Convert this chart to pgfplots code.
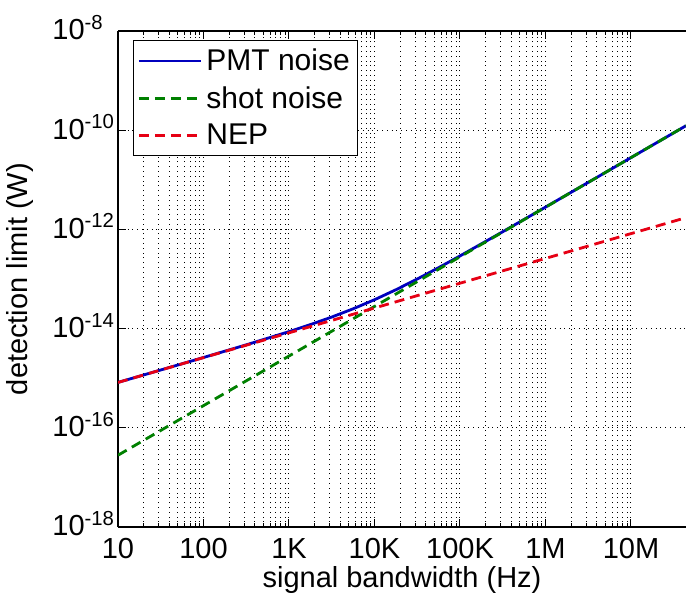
\documentclass[border=0pt]{standalone}
\usepackage{fontspec}
\setmainfont{Liberation Sans}
\usepackage{pgfplots}
\pgfplotsset{compat=1.18}
\definecolor{mblue}{RGB}{0,0,190}
\definecolor{mgreen}{RGB}{0,128,0}
\definecolor{mred}{RGB}{230,0,20}
\begin{document}
\begin{tikzpicture}
\useasboundingbox (-59pt,-36pt) rectangle (284pt,263.5pt);
\begin{axis}[
  at={(0,0)}, anchor=south west,
  scale only axis, width=284pt, height=248pt,
  xmode=log, ymode=log,
  xmin=10, xmax=4.4e7, ymin=1e-18, ymax=1e-8,
  axis x line*=box, axis y line*=left,
  axis line style={-, line width=0.6pt},
  ytick pos=left, xtick pos=both,
  font=\fontsize{14.5pt}{17pt}\selectfont,
  xtick={10,100,1000,1e4,1e5,1e6,1e7},
  xticklabels={10,100,1K,10K,100K,1M,10M},
  ytick={1e-18,1e-16,1e-14,1e-12,1e-10,1e-8},
  yticklabels={10\textsuperscript{-18},10\textsuperscript{-16},10\textsuperscript{-14},10\textsuperscript{-12},10\textsuperscript{-10},10\textsuperscript{-8}},
  yminorticks=false, xminorticks=true,
  xmajorgrids, xminorgrids, ymajorgrids,
  major grid style={dotted, black, line width=0.5pt},
  minor grid style={dotted, black, line width=0.5pt},
  major tick length=4pt, minor tick length=2pt,
  tick style={black, line width=0.5pt},
  yticklabel style={inner sep=1pt, anchor=west, xshift=-34pt, yshift=1.6pt},
  xticklabel style={inner sep=1pt, yshift=-4.5pt},
  xlabel={signal bandwidth (Hz)},
  ylabel={detection limit (W)},
  x label style={at={(axis description cs:0.5,-0.107)}, anchor=center},
  y label style={at={(axis description cs:-0.172,0.5)}, anchor=center},
  legend style={at={(axis description cs:0.0264,0.982)}, anchor=north west,
    draw=black, line width=0.6pt, fill=white, font=\fontsize{15pt}{17pt}\selectfont,
    row sep=2.5pt, inner sep=2pt},
  legend cell align=left,
  legend image code/.code={\draw[#1] (0pt,0pt) -- (31pt,0pt);},
]
\addplot[mblue, line width=1.4pt] table {
10 8.225e-16
31.62 1.465e-15
100 2.615e-15
316.2 4.707e-15
1000 8.684e-15
1778 1.204e-14
3162 1.709e-14
5623 2.506e-14
10000 3.821e-14
17783 6.067e-14
31623 9.989e-14
56234 1.691e-13
100000 2.918e-13
316228 8.974e-13
1000000 2.812e-12
3162278 8.866e-12
10000000 2.801e-11
44000000 1.232e-10
};
\addlegendentry{PMT noise}
\addplot[mgreen, line width=1.4pt, dash pattern=on 5pt off 3pt] table {
10 2.8e-17
100 2.8e-16
1000 2.8e-15
10000 2.8e-14
100000 2.8e-13
1000000 2.8e-12
10000000 2.8e-11
44000000 1.232e-10
};
\addlegendentry{shot noise}
\addplot[mred, line width=1.4pt, dash pattern=on 5pt off 3pt] table {
10 8.22e-16
100 2.60e-15
1000 8.22e-15
10000 2.60e-14
100000 8.22e-14
1000000 2.60e-13
10000000 8.22e-13
44000000 1.725e-12
};
\addlegendentry{NEP}
\end{axis}
\end{tikzpicture}
\end{document}
